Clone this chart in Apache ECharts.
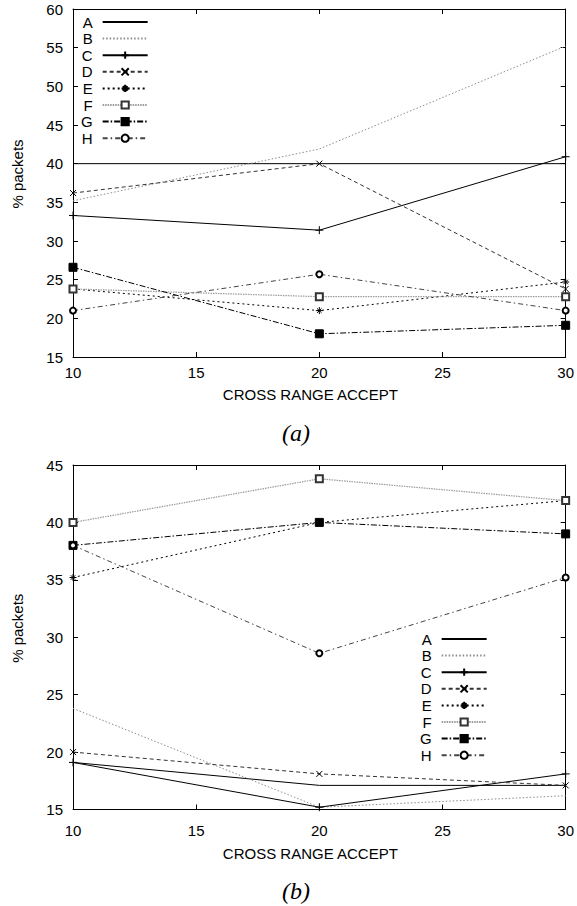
<!DOCTYPE html>
<html>
<head>
<meta charset="utf-8">
<script src="https://cdn.jsdelivr.net/npm/echarts@6/dist/echarts.min.js"></script>
<style>
  html, body { margin: 0; padding: 0; background: #fff; }
  #chart { width: 577px; height: 906px; }
</style>
</head>
<body>
<div id="chart"></div>
<script>
// Cross range accept setting on the x axis, share of packets on the y axis
const crossRange = [10, 20, 30];
const seriesNames = ['A', 'B', 'C', 'D', 'E', 'F', 'G', 'H'];

// Panel (a)
const a_A = [40.0, 40.0, 40.0];
const a_B = [35.2, 41.9, 55.2];
const a_C = [33.3, 31.4, 40.9];
const a_D = [36.2, 40.0, 23.8];
const a_E = [23.8, 21.0, 24.7];
const a_F = [23.8, 22.8, 22.8];
const a_G = [26.6, 18.0, 19.1];
const a_H = [21.0, 25.7, 21.0];

// Panel (b)
const b_A = [19.1, 17.1, 17.1];
const b_B = [23.8, 15.2, 16.2];
const b_C = [19.1, 15.2, 18.1];
const b_D = [20.0, 18.1, 17.1];
const b_E = [35.2, 40.0, 41.9];
const b_F = [40.0, 43.8, 41.9];
const b_G = [38.0, 40.0, 39.0];
const b_H = [38.0, 28.6, 35.2];

const xTicks = [10, 15, 20, 25, 30];
const yTicksA = [15, 20, 25, 30, 35, 40, 45, 50, 55, 60];
const yTicksB = [15, 20, 25, 30, 35, 40, 45];

const panelA = [a_A, a_B, a_C, a_D, a_E, a_F, a_G, a_H];
const panelB = [b_A, b_B, b_C, b_D, b_E, b_F, b_G, b_H];

const FONT = '"Liberation Sans", Arial, Helvetica, sans-serif';

// gnuplot-like monochrome point/line styles
const PLUS = 'path://M0,5H10M5,0V10';
const CROSS = 'path://M0,0L10,10M10,0L0,10';
const STAR = 'path://M0,5H10M5,0V10M1.8,1.8L8.2,8.2M8.2,1.8L1.8,8.2';

const styles = {
  A: { color: '#000', type: 'solid', width: 1, symbol: 'circle', size: 0, hidden: true },
  B: { color: '#8c8c8c', type: [1.5, 2], width: 1, symbol: 'circle', size: 0, hidden: true },
  C: { color: '#000', type: 'solid', width: 1, symbol: PLUS, size: 8 },
  D: { color: '#333', type: [4, 3], width: 1, symbol: CROSS, size: 6 },
  E: { color: '#000', type: [2, 3], width: 1, symbol: STAR, size: 7 },
  F: { color: '#9a9a9a', type: [1.5, 1], width: 1.2, symbol: 'emptyRect', size: 7 },
  G: { color: '#000', type: [6, 2, 1.5, 2], width: 1, symbol: 'rect', size: 8 },
  H: { color: '#444', type: [5, 3, 1.5, 3], width: 1, symbol: 'emptyCircle', size: 6 }
};

function toPoints(values) {
  return crossRange.map((x, i) => [x, values[i]]);
}

function buildSeries(values, axisIndex) {
  return seriesNames.map((name, i) => {
    const s = styles[name];
    const mark = s.symbol === 'emptyRect' ? '#333' : '#000';
    return {
      name: name,
      type: 'line',
      xAxisIndex: axisIndex,
      yAxisIndex: axisIndex,
      data: toPoints(values[i]),
      symbol: s.symbol,
      symbolSize: s.size,
      showSymbol: !s.hidden,
      lineStyle: { color: s.color, type: s.type, width: s.width },
      itemStyle: s.hidden
        ? { color: mark, opacity: 0 }
        : { color: mark, borderColor: mark, borderWidth: 1 },
      emphasis: { disabled: true },
      silent: true,
      z: 3
    };
  });
}

const axisLine = { show: true, lineStyle: { color: '#000', width: 1 } };
const tickStyle = { show: true, inside: true, length: 5, lineStyle: { color: '#000', width: 1 } };
const labelStyle = { color: '#000', fontFamily: FONT, fontSize: 15 };

function xAxes(gridIndex, labelMargin, nameGap) {
  return [
    {
      gridIndex, type: 'value', min: xTicks[0], max: xTicks[xTicks.length - 1], interval: 5,
      position: 'bottom', axisLine, axisTick: tickStyle, splitLine: { show: false },
      axisLabel: Object.assign({ margin: labelMargin }, labelStyle),
      name: 'CROSS RANGE ACCEPT', nameLocation: 'middle', nameGap: nameGap,
      nameTextStyle: { color: '#000', fontFamily: FONT, fontSize: 15, padding: [0, 18, 0, 0] }
    },
    {
      gridIndex, type: 'value', min: xTicks[0], max: xTicks[xTicks.length - 1], interval: 5,
      position: 'top', axisLine, axisTick: tickStyle, splitLine: { show: false },
      axisLabel: { show: false }
    }
  ];
}

function yAxes(gridIndex, ticks) {
  return [
    {
      gridIndex, type: 'value', min: ticks[0], max: ticks[ticks.length - 1], interval: 5,
      position: 'left', axisLine, axisTick: tickStyle, splitLine: { show: false },
      axisLabel: Object.assign({ margin: 10 }, labelStyle),
      name: '% packets', nameLocation: 'middle', nameGap: 48, nameRotate: 90,
      nameTextStyle: { color: '#000', fontFamily: FONT, fontSize: 15, padding: [0, 0, 0, 18] }
    },
    {
      gridIndex, type: 'value', min: ticks[0], max: ticks[ticks.length - 1], interval: 5,
      position: 'right', axisLine, axisTick: tickStyle, splitLine: { show: false },
      axisLabel: { show: false }
    }
  ];
}

function legendAt(left, top) {
  return {
    data: seriesNames,
    orient: 'vertical',
    align: 'right',
    left: left,
    top: top,
    padding: 0,
    itemWidth: 45,
    itemHeight: 9,
    itemGap: 1.6,
    selectedMode: false,
    textStyle: { color: '#000', fontFamily: FONT, fontSize: 15, lineHeight: 15, padding: [0, 5, 0, 0] }
  };
}

const chart = echarts.init(document.getElementById('chart'), null, { renderer: 'svg' });

chart.setOption({
  animation: false,
  backgroundColor: '#fff',
  grid: [
    { left: 73, right: 10, top: 9, height: 348 },
    { left: 73, right: 10, top: 465, height: 344.5 }
  ],
  xAxis: [].concat(xAxes(0, 8, 30), xAxes(1, 13, 36)),
  yAxis: [].concat(yAxes(0, yTicksA), yAxes(1, yTicksB)),
  legend: [legendAt(81, 14.5), legendAt(420, 631.5)],
  series: [].concat(buildSeries(panelA, 0), buildSeries(panelB, 2)),
  graphic: [
    { type: 'text', x: 296, y: 433, silent: true,
      style: { text: '(a)', font: 'italic 24px "Liberation Serif", "Times New Roman", serif', fill: '#000', align: 'center', verticalAlign: 'middle' } },
    { type: 'text', x: 296, y: 891, silent: true,
      style: { text: '(b)', font: 'italic 24px "Liberation Serif", "Times New Roman", serif', fill: '#000', align: 'center', verticalAlign: 'middle' } }
  ]
});
</script>
</body>
</html>
